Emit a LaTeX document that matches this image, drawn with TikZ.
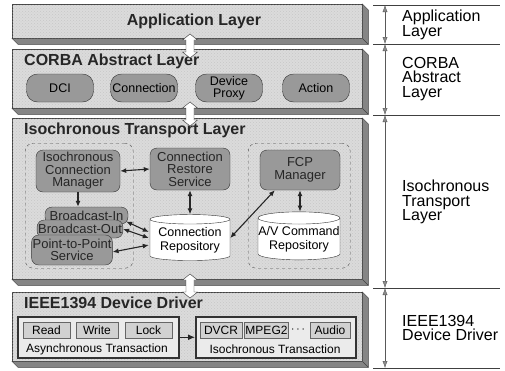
\documentclass[tikz,border=0pt]{standalone}
\usepackage{fontspec}
\setmainfont{Liberation Sans}
\setsansfont{Liberation Sans}
\usetikzlibrary{calc}
\usetikzlibrary{positioning,arrows.meta}
\usetikzlibrary{shapes,patterns}

\tikzset{
  layer/.style={draw=black!75, fill=black!14, anchor=north west, inner sep=0,
    minimum width=350, postaction={pattern=crosshatch dots, pattern color=black!22}},
  depth/.style={draw=black!75, fill=black!48},
  title/.style={font=\fontsize{16}{16}\selectfont\bfseries, text=black!85, inner sep=0},
  pill/.style={draw=black!80, fill=black!40, rounded corners=11, minimum width=67,
    minimum height=28, align=center, inner sep=1, font=\fontsize{12.5}{12}\selectfont},
  comp/.style={draw=black!80, fill=black!40, rounded corners=7, align=center, inner sep=1,
    font=\fontsize{13}{12.5}\selectfont, text=black!85},
  repo/.style={draw=black!80, fill=white, cylinder, shape border rotate=90, aspect=0.15,
    align=center, inner sep=0, font=\fontsize{12.5}{14}\selectfont},
  group/.style={draw=black!70, dashed, rounded corners=8, anchor=north west, inner sep=0},
  trans/.style={draw=black!80, line width=1.5, fill=black!8, anchor=north west, inner sep=0},
  op/.style={draw=black!60, fill=black!18, minimum height=16, inner sep=1,
    font=\fontsize{12}{12}\selectfont},
  small/.style={font=\fontsize{12}{12}\selectfont, inner sep=0},
  side/.style={anchor=west, align=left, inner sep=0, font=\fontsize{16}{14.5}\selectfont},
  blockarrow/.style={draw=black!80, fill=white, line join=miter},
  link/.style={black!85, line width=1.1, {Latex[length=6pt,width=5pt]}-{Latex[length=6pt,width=5pt]}},
  span/.style={black!65, {Latex[length=7pt,width=5pt,fill=black!45]}-{Latex[length=7pt,width=5pt,fill=black!45]}}
}

\newcommand{\layerdepth}[1]{%
  \filldraw[depth] (#1.north east) -- ++(6,6) -- ($(#1.south east)+(6,6)$)
    -- ($(#1.south west)+(6,6)$) -- (#1.south west) -- (#1.south east) -- cycle;
  \draw[black!75] (#1.south east) -- ++(6,6);}

\newcommand{\blockarrow}[1]{%
  \filldraw[blockarrow] (#1) ++(0,-12) -- ++(7.5,6) -- ++(-3.5,0) -- ++(0,12)
    -- ++(3.5,0) -- ++(-7.5,6) -- ++(-7.5,-6) -- ++(3.5,0) -- ++(0,-12)
    -- ++(-3.5,0) -- cycle;}

\begin{document}
\begin{tikzpicture}[x=1pt,y=-1pt]
    \useasboundingbox (0,0) rectangle (505,370);

    % layers
    \node[layer, minimum height=34] (app) at (12,4) {};
    \layerdepth{app}
    \node[layer, minimum height=59] (corba) at (12,49) {};
    \layerdepth{corba}
    \node[layer, minimum height=161] (itl) at (12,118) {};
    \layerdepth{itl}
    \node[layer, minimum height=69] (ieee) at (12,292) {};
    \layerdepth{ieee}

    \node[title] (apptitle) at (194,21) {Application Layer};
    \node[title, anchor=west] (corbatitle) at (24,61) {CORBA Abstract Layer};
    \node[title, anchor=west] (itltitle) at (24,130) {Isochronous Transport Layer};
    \node[title, anchor=west] (ieeetitle) at (24,303) {IEEE1394 Device Driver};

    % CORBA
    \node[pill] (dci) at (60,88) {DCI};
    \node[pill] (conn) at (144,88) {Connection};
    \node[pill] (proxy) at (229,88) {Device\\Proxy};
    \node[pill] (action) at (316,88) {Action};

    % isochronous transport
    \node[group, minimum width=108, minimum height=125] (leftgrp) at (25,143) {};
    \node[group, minimum width=102, minimum height=125] (rightgrp) at (248,143) {};

    \node[comp, minimum width=84, minimum height=42] (icm) at (78,171)
        {Isochronous\\Connection\\Manager};
    \node[comp, minimum width=80, minimum height=42] (crs) at (190,169)
        {Connection\\Restore\\Service};
    \node[comp, minimum width=80, minimum height=40] (fcp) at (300,170) {FCP\\Manager};

    \node[comp, minimum width=83, minimum height=17] (bin) at (86.5,215.5) {Broadcast-In};
    \node[comp, minimum width=84, minimum height=18] (bout) at (80,229) {Broadcast-Out};
    \node[comp, minimum width=80, minimum height=30] (p2p) at (72,250) {Point-to-Point\\Service};

    \node[repo, minimum width=80, minimum height=46] (crep) at (190,240)
        {Connection\\Repository};
    \node[repo, minimum width=82, minimum height=48] (avrep) at (299,239)
        {A/V Command\\Repository};

    \draw[black!85, line width=1.1, -{Latex[length=6pt,width=5pt]}] (icm.south) -- (icm.south |- bin.north);
    \draw[link] (icm.east) -- (crs.west);
    \draw[link] (crs.south) -- (crs.south |- crep.north);
    \draw[link] ($(bin.east)+(-2,6)$) -- ($(crep.west)+(-1,-8)$);
    \draw[link] (bout.east) -- ($(crep.west)+(-1,-2)$);
    \draw[link] ($(p2p.east)+(0,2)$) -- ($(crep.west)+(-1,5)$);
    \draw[link] ($(crep.east)+(0,-2)$) -- ($(fcp.south west)+(15,0)$);
    \draw[link] (fcp.south) -- (fcp.south |- avrep.north);

    % IEEE1394 device driver
    \node[trans, minimum width=161, minimum height=41] (async) at (17,316) {};
    \node[op, minimum width=47] (read) at (46.5,330) {Read};
    \node[op, minimum width=42] (write) at (97,330) {Write};
    \node[op, minimum width=47] (lock) at (148.5,330) {Lock};
    \node[small] (asynclbl) at (97,349) {Asynchronous Transaction};

    \node[trans, minimum width=160, minimum height=41] (iso) at (195,316) {};
    \node[op, minimum width=42] (dvcr) at (221,330) {DVCR};
    \node[op, minimum width=41] (mpeg) at (266.5,330) {MPEG2};
    \node[small] (dots) at (298,330) {$\cdots$};
    \node[op, minimum width=40] (audio) at (330,330) {Audio};
    \node[small] (isolbl) at (275,349) {Isochronous Transaction};

    \draw[black!85, line width=1.1, -{Latex[length=7pt,width=6pt]}] (async.east) -- (iso.west);

    % arrows between layers
    \coordinate (ba1) at (190,46);
    \coordinate (ba2) at (190,114);
    \coordinate (ba3) at (190,286);
    \blockarrow{ba1}
    \blockarrow{ba2}
    \blockarrow{ba3}

    % scale on the right
    \foreach \n/\y in {0/5, 1/44, 2/115, 3/288, 4/368}
        \coordinate (t\n) at (385,\y);
    \foreach \n in {0,...,4}
        \draw[black!75, line width=0.9] ($(t\n)+(-12,0)$) -- ($(t\n)+(115,0)$);
    \foreach \a/\b in {0/1, 1/2, 2/3, 3/4}
        \draw[span] (t\a) -- (t\b);

    \node[side] (applbl) at (402,25) {Application\\Layer};
    \node[side] (corbalbl) at (402,79) {CORBA\\Abstract\\Layer};
    \node[side] (itllbl) at (402,202) {Isochronous\\Transport\\Layer};
    \node[side] (ieeelbl) at (402,328) {IEEE1394\\Device Driver};
\end{tikzpicture}
\end{document}
